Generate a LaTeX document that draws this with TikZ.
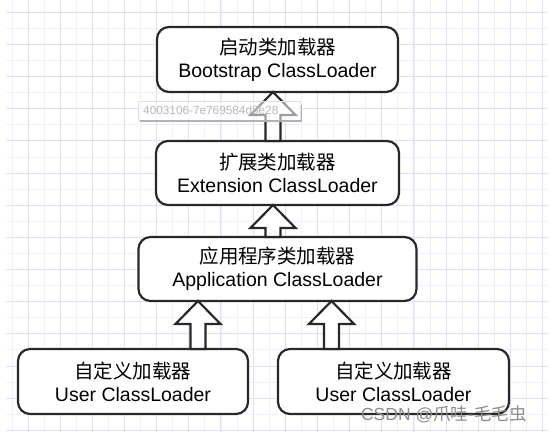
\documentclass[tikz,border=0pt]{standalone}
\usepackage{fontspec}
\setmainfont{Liberation Sans}
\newfontfamily\cjk{Noto Sans CJK SC}
\usetikzlibrary{calc, positioning}

\definecolor{gridminor}{RGB}{240,238,252}
\definecolor{gridmajor}{RGB}{226,222,247}
\definecolor{boxline}{RGB}{40,40,40}

% hollow block arrow pointing up: #1 = tail, #2 = tip
\newcommand{\hollowup}[2]{%
  \draw[hollow] let \p1=(#1), \p2=(#2) in
    (\x1-7.5pt,\y1) -- (\x1-7.5pt,\y2-23pt) -- (\x1-22.5pt,\y2-23pt) -- (\x1,\y2)
    -- (\x1+22.5pt,\y2-23pt) -- (\x1+7.5pt,\y2-23pt) -- (\x1+7.5pt,\y1) -- cycle;}

\begin{document}
\begin{tikzpicture}[
    x=1pt, y=-1pt,
    loader/.style={draw=boxline, line width=2.2pt, rounded corners=12pt, fill=white,
        align=center, inner sep=0pt, outer sep=0pt, font=\fontsize{19.5}{23}\selectfont},
    hollow/.style={draw=boxline, line width=2.2pt, fill=white, line join=miter},
    tooltip/.style={draw=black!12, fill=white, fill opacity=0.55, text opacity=1,
        text=black!28, font=\fontsize{11.8}{12}\selectfont, anchor=west,
        minimum width=162pt, minimum height=19pt, inner xsep=5pt, text width=152pt, align=left}
]

\useasboundingbox (0,0) rectangle (550,432);

% Grid
\foreach \k in {0,...,33}
  \draw[gridminor, line width=1pt] (12+16.08*\k,0) -- (12+16.08*\k,432);
\foreach \k in {0,...,26}
  \draw[gridminor, line width=1pt] (6,12.3+16.08*\k) -- (548,12.3+16.08*\k);
\foreach \k in {0,...,16}
  \draw[gridmajor, line width=1pt] (28+32.16*\k,0) -- (28+32.16*\k,432);
\foreach \k in {0,...,13}
  \draw[gridmajor, line width=1pt] (6,12.3+32.16*\k) -- (548,12.3+32.16*\k);

% Nodes
\node[loader, minimum width=241pt, minimum height=65pt] (boot) at (277.5,59.5)
    {{\cjk 启动类加载器}\\Bootstrap ClassLoader};
\node[loader, minimum width=243pt, minimum height=64pt, below=49pt of boot] (ext)
    {{\cjk 扩展类加载器}\\Extension ClassLoader};
\node[loader, minimum width=278pt, minimum height=64pt, below=32pt of ext] (app)
    {{\cjk 应用程序类加载器}\\Application ClassLoader};
\node[loader, minimum width=230pt, minimum height=65pt, below=48pt of app, xshift=-144.5pt] (user1)
    {{\cjk 自定义加载器}\\User ClassLoader};
\node[loader, minimum width=231pt, minimum height=65pt, below=48pt of app, xshift=116pt] (user2)
    {{\cjk 自定义加载器}\\User ClassLoader};

% Arrows
\coordinate (tail1) at ($(user1.north)+(65,0)$);
\coordinate (tail2) at ($(user2.north)+(-62,0)$);
\hollowup{$(ext.north)+(-4.5,0)$}{$(boot.south)+(-4.5,0)$}
\hollowup{$(app.north)+(-4.5,0)$}{$(ext.south)+(-4.5,0)$}
\hollowup{tail1}{tail1 |- app.south}
\hollowup{tail2}{tail2 |- app.south}

% Watermarks
\node[tooltip] (hash) at (138,110.5) {4003106-7e769584d8e28};
\draw[black!30, line width=1.2pt] ($(hash.south west)+(2,0.8)$) -- ($(hash.south east)+(0.8,0.8)$)
    -- ($(hash.north east)+(0.8,4)$);
\node[text=black!45, inner sep=0pt, font=\fontsize{17.5}{17.5}\selectfont] (mark) at (444,414)
    {CSDN @{\cjk 爪哇-毛毛虫}};

\end{tikzpicture}
\end{document}
